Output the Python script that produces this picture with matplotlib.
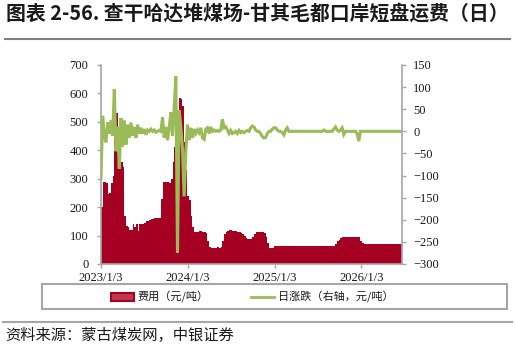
import matplotlib
matplotlib.use("Agg")
import matplotlib.pyplot as plt
import matplotlib.dates as mdates
import pandas as pd
from matplotlib.patches import Patch, Rectangle
from matplotlib.lines import Line2D

# weekly samples starting 2023-01-03
start_date = "2023-01-03"

# 费用（元/吨）, left axis
fee = [
    200, 290, 288, 285, 245, 250, 285, 310, 450, 530,
    430, 410, 360, 340, 170, 135, 130, 120, 120, 140,
    130, 140, 115, 140, 142, 142, 145, 150, 150, 155,
    160, 160, 161, 161, 162, 162, 230, 290, 290, 288,
    288, 285, 300, 360, 410, 450, 470, 583, 580, 555,
    430, 330, 240, 225, 170, 130, 114, 112, 113, 115,
    115, 114, 112, 110, 80, 60, 58, 57, 56, 58,
    59, 58, 60, 80, 105, 113, 117, 118, 118, 117,
    116, 115, 114, 113, 110, 105, 98, 92, 89, 87,
    88, 95, 105, 112, 114, 114, 114, 114, 110, 95,
    75, 58, 55, 57, 62, 63, 63, 63, 63, 63,
    63, 63, 63, 63, 63, 63, 63, 63, 63, 63,
    63, 63, 63, 63, 63, 63, 63, 63, 63, 64,
    64, 64, 63, 63, 63, 63, 63, 63, 63, 63,
    65, 70, 80, 85, 90, 94, 94, 94, 94, 94,
    94, 94, 94, 94, 94, 94, 80, 73, 72, 72,
    72, 72, 72, 72, 72, 72, 72, 72, 72, 72,
    72, 72, 72, 72, 72, 72, 72, 72, 72, 72,
    72,
]

# 日涨跌（右轴，元/吨）
change = [
    -105, 35, -10, -25, 20, -5, 25, -10, 95, -45,
    10, -85, 30, -35, 25, -30, 15, -15, 20, -10,
    10, -15, 15, -5, 8, -5, 5, -8, 3, 0,
    5, 0, 3, -2, 0, 2, 0, 32, -14, 10,
    -20, 8, 43, -10, 54, 124, -274, 48, 10, -40,
    -147, -48, 15, -20, 8, -15, 5, -5, 3, -3,
    8, -15, -18, 5, 8, -5, 10, 0, 3, 0,
    2, 0, 3, 27, 8, 10, 3, -5, 2, -5,
    -3, 0, -5, 2, -3, 0, -3, 0, 2, 0,
    8, 12, 10, 3, 0, 0, -5, -12, -15, -14,
    -5, 0, 0, 5, 8, 8, 3, 0, 0, -3,
    -8, 3, 8, 0, 0, 0, 0, 0, 0, 0,
    0, 0, 0, 0, 0, 0, 0, 0, 0, 0,
    0, 0, 0, 0, 3, 0, 0, 0, 0, 0,
    5, 10, 3, 0, 3, 8, -7, 0, 0, 0,
    0, 0, 0, 0, -5, -22, 0, 0, 0, 0,
    0, 0, 0, 0, 0, 0, 0, 0, 0, 0,
    0, 0, 0, 0, 0, 0, 0, 0, 0, 0,
    0,
]

tick_dates = ["2023-01-03", "2024-01-03", "2025-01-03", "2026-01-03"]
tick_labels = ["2023/1/3", "2024/1/3", "2025/1/3", "2026/1/3"]

RED = "#A50021"
GREEN = "#9BBB59"
AXIS_GREY = "#A6A6A6"
TEXT = "#1A1A1A"
CJK = ["Noto Sans CJK SC", "DejaVu Sans"]
SERIF = ["Liberation Serif", "DejaVu Serif"]

W, H = 515, 348

edges = mdates.date2num(pd.date_range(start_date, periods=len(fee) + 1, freq="7D").to_pydatetime())
x_pts = edges[:-1]

fig = plt.figure(figsize=(W / 100, H / 100), dpi=100)
ax = fig.add_axes([101 / W, 1 - 264 / H, 301 / W, 199 / H])

ax.stairs(fee, edges, fill=True, color=RED, zorder=2)
ax.set_xlim(edges[0], edges[-1])
ax.set_ylim(0, 700)
ax.set_yticks(range(0, 701, 100))
ax.set_xticks(mdates.date2num(pd.to_datetime(tick_dates).to_pydatetime()))
ax.set_xticklabels(tick_labels)

ax2 = ax.twinx()
ax2.plot(x_pts, change, color=GREEN, lw=2.2, solid_joinstyle="miter")
ax2.set_ylim(-300, 150)
ax2.set_yticks(range(-300, 151, 50))

for a in (ax, ax2):
    for side in ("top", "left", "right", "bottom"):
        a.spines[side].set_visible(False)
ax.spines["left"].set_visible(True)
ax.spines["bottom"].set_visible(True)
ax2.spines["right"].set_visible(True)
for sp in (ax.spines["left"], ax.spines["bottom"], ax2.spines["right"]):
    sp.set_color(AXIS_GREY)
    sp.set_linewidth(1.2)

ax.tick_params(axis="y", length=3, width=1, color=AXIS_GREY, pad=6, labelsize=9, labelcolor=TEXT)
ax.tick_params(axis="x", length=3, width=1, color=AXIS_GREY, pad=3, labelsize=9, labelcolor=TEXT)
ax2.tick_params(axis="y", length=3, width=1, color=AXIS_GREY, pad=5, labelsize=9, labelcolor=TEXT)
for lab in ax.get_xticklabels() + ax.get_yticklabels() + ax2.get_yticklabels():
    lab.set_family(SERIF)

# title and rule
fig.text(6 / W, 1 - 13 / H, "图表 2-56. 查干哈达堆煤场-甘其毛都口岸短盘运费（日）",
         fontsize=14.3, fontweight="bold", family=CJK, va="center", ha="left", color=TEXT)
fig.add_artist(Line2D([5 / W, 510 / W], [1 - 38.5 / H, 1 - 38.5 / H],
                      transform=fig.transFigure, color="#7F7F7F", lw=1.5))

# legend box
fig.add_artist(Rectangle((42 / W, 1 - 309 / H), 465 / W, 25 / H, transform=fig.transFigure,
                         fill=False, edgecolor=AXIS_GREY, lw=1.5))
handles = [Patch(facecolor="#C0394B", edgecolor=RED, lw=1.5),
           Line2D([], [], color=GREEN, lw=2)]
fig.legend(handles, ["费用（元/吨）", "日涨跌（右轴，元/吨）"], loc="center",
           bbox_to_anchor=(252 / W, 1 - 297 / H), ncol=2, frameon=False,
           prop={"family": CJK, "size": 8}, handlelength=2.1, handletextpad=0.3,
           columnspacing=3.8, labelcolor=TEXT)

# source
fig.add_artist(Line2D([3 / W, 512 / W], [1 - 322 / H, 1 - 322 / H],
                      transform=fig.transFigure, color=AXIS_GREY, lw=1.5))
fig.text(5 / W, 1 - 335 / H, "资料来源：蒙古煤炭网，中银证券", fontsize=11, style="italic",
         family=CJK, va="center", ha="left", color=TEXT)

fig.savefig("out.png", dpi=100)
